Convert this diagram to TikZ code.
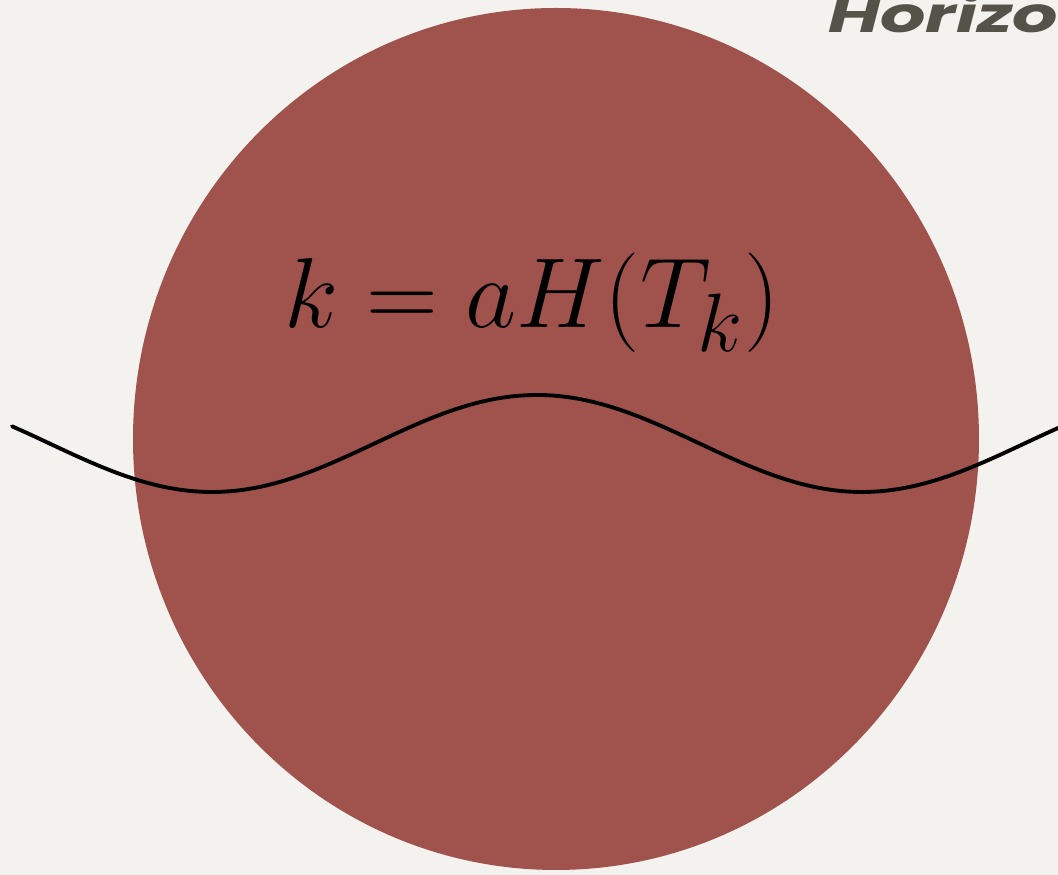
\documentclass[tikz,border=0pt]{standalone}
\usepackage{fontspec}
\newfontfamily\horizonfont{Poppins}
\usetikzlibrary{positioning}
\definecolor{colPaper}{RGB}{243,242,239}
\definecolor{colPatch}{RGB}{160,82,76}
\definecolor{colLabel}{RGB}{85,82,74}

\begin{document}
\begin{tikzpicture}[
    every node/.style={inner sep=0pt},
    patch/.style={fill=colPatch, draw=none},
    wave/.style={black, line width=1.1pt, line cap=round},
    formula/.style={font=\fontsize{24.88}{30}\selectfont, anchor=base, scale=1.137},
    tag/.style={font=\horizonfont\bfseries\itshape\fontsize{14}{16}\selectfont, text=colLabel, anchor=base west, xscale=1.45}
]
    % page and clipping
    \fill[colPaper] (0,0) rectangle (10.58,8.75);
    \useasboundingbox (0,0) rectangle (10.58,8.75);
    \clip (0,0) rectangle (10.58,8.75);

    % the region
    \draw[patch] (5.56,4.36) ellipse [x radius=4.23, y radius=4.31];
    \node[formula] (eq) at (5.32,5.47) {$k = aH(T_k)$};

    % the mode
    \draw[wave] plot[domain=0.12:10.75, samples=120, smooth]
        (\x, {4.315 + 0.485*cos(360*(\x-5.37)/6.5)});

    \node[tag] (hz) at (8.27,8.42) {Horizon};
\end{tikzpicture}
\end{document}
